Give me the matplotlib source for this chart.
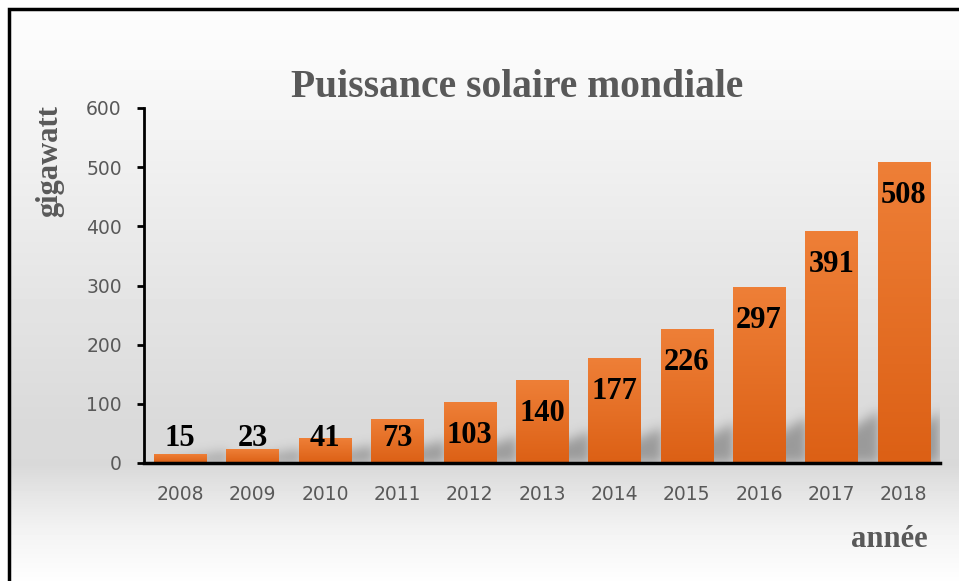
import numpy as np
import matplotlib
matplotlib.use("Agg")
import matplotlib.pyplot as plt
from matplotlib.colors import LinearSegmentedColormap
from matplotlib.patches import Rectangle

# data
years = ["2008", "2009", "2010", "2011", "2012", "2013",
         "2014", "2015", "2016", "2017", "2018"]
gigawatt = [15, 23, 41, 73, 103, 140, 177, 226, 297, 391, 508]
y_ticks = [0, 100, 200, 300, 400, 500, 600]

title = "Puissance solaire mondiale"
y_label = "gigawatt"
x_label = "année"

GRAY = "#595959"
SERIF = ["Liberation Serif", "DejaVu Serif"]

fig = plt.figure(figsize=(9.59, 5.81), dpi=100)

# --- vertical gray gradient behind everything
bg = fig.add_axes([0, 0, 1, 1], zorder=-10)
bg.axis("off")
rows = np.arange(581)
anch_y = [0, 60, 150, 300, 420, 465, 490, 530, 581]
anch_v = [253, 250, 241, 228, 218, 217, 228, 243, 254]
col = np.interp(rows, anch_y, anch_v) / 255.0
grad = np.repeat(col[:, None], 10, axis=1)
bg.imshow(grad, cmap="gray", vmin=0, vmax=1, aspect="auto",
          extent=[0, 1, 0, 1], origin="upper")
bg.set_xlim(0, 1)
bg.set_ylim(0, 1)
# white outside the frame (left/top strip)
bg.add_patch(Rectangle((0, 0), 9 / 959, 1, color="white", zorder=2))
bg.add_patch(Rectangle((0, 1 - 9 / 581), 1, 9 / 581, color="white", zorder=2))

ax = fig.add_axes([144 / 959, 1 - 463 / 581, 796 / 959, 355 / 581])
ax.patch.set_alpha(0)
x = np.arange(len(years))
bars = ax.bar(x, gigawatt, width=0.72, color="none", edgecolor="none", zorder=3)

ax.set_xlim(-0.5, len(years) - 0.5)
ax.set_ylim(0, 600)

# soft shadow behind the bars, leaning to the right
nx, ny = 796, 355
gx = np.linspace(-0.5, len(years) - 0.5, nx)
gy = np.linspace(0, 600, ny)
XX, YY = np.meshgrid(gx, gy)
shade = np.zeros((ny, nx))
for b in bars:
    x0 = b.get_x() + 0.1
    x1 = b.get_x() + b.get_width() + 0.3
    hs = 4.4 * np.sqrt(b.get_height())
    frac = np.clip((XX - x0) / (x1 - x0), 0, 1)
    top = hs * (0.15 + 0.85 * frac)
    mask = (XX >= x0) & (XX <= x1) & (YY <= top)
    shade = np.maximum(shade, mask.astype(float))


def blur(a, n, axis):
    k = np.exp(-0.5 * (np.arange(-3 * n, 3 * n + 1) / n) ** 2)
    k /= k.sum()
    return np.apply_along_axis(lambda r: np.convolve(r, k, mode="same"), axis, a)


shade = blur(blur(shade, 5, 1), 6, 0)
rgba = np.zeros((ny, nx, 4))
rgba[..., :3] = 0.3
rgba[..., 3] = 0.45 * shade
ax.imshow(rgba, extent=[gx[0], gx[-1], 0, 600], origin="lower",
          aspect="auto", zorder=1)

# orange gradient bars
bar_cmap = LinearSegmentedColormap.from_list("bar", ["#dc6015", "#ee7f37"])
ramp = np.linspace(0, 1, 100)[:, None]
for b in bars:
    ax.imshow(ramp, cmap=bar_cmap, aspect="auto", origin="lower",
              extent=[b.get_x(), b.get_x() + b.get_width(), 0, b.get_height()],
              zorder=3)

# value labels
for xi, v in zip(x, gigawatt):
    ax.text(xi, max(v - 69, 29), str(v), ha="center", va="baseline",
            fontsize=22, fontweight="bold", family=SERIF, color="black", zorder=5)

ax.set_xlim(-0.5, len(years) - 0.5)
ax.set_ylim(0, 600)

for s in ["top", "right"]:
    ax.spines[s].set_visible(False)
ax.spines["left"].set_linewidth(2)
ax.spines["bottom"].set_linewidth(2.5)
ax.spines["bottom"].set_zorder(6)

ax.set_yticks(y_ticks)
ax.set_xticks(x)
ax.set_xticklabels(years)
ax.tick_params(axis="y", length=5, width=2, color="black", labelcolor=GRAY,
               labelsize=13.5, pad=11)
ax.tick_params(axis="x", length=0, labelcolor=GRAY, labelsize=13.5, pad=16)

fig.text(517 / 959, 1 - 97 / 581, title, ha="center", va="baseline",
         fontsize=28.5, fontweight="bold", family=SERIF, color=GRAY)
fig.text(50 / 959, 1 - 161 / 581, y_label, rotation=90, ha="center",
         va="center", fontsize=22, fontweight="bold", family=SERIF, color=GRAY)
fig.text(928 / 959, 1 - 547 / 581, x_label, ha="right", va="baseline",
         fontsize=22, fontweight="bold", family=SERIF, color=GRAY)

# frame (only left and top edges fall inside the picture)
fig.patches.append(Rectangle((9 / 959, -0.1), 1.2, 1.1 - 9 / 581,
                             transform=fig.transFigure, fill=False,
                             edgecolor="black", linewidth=2.5, zorder=10))

fig.savefig("out.png", dpi=100)
